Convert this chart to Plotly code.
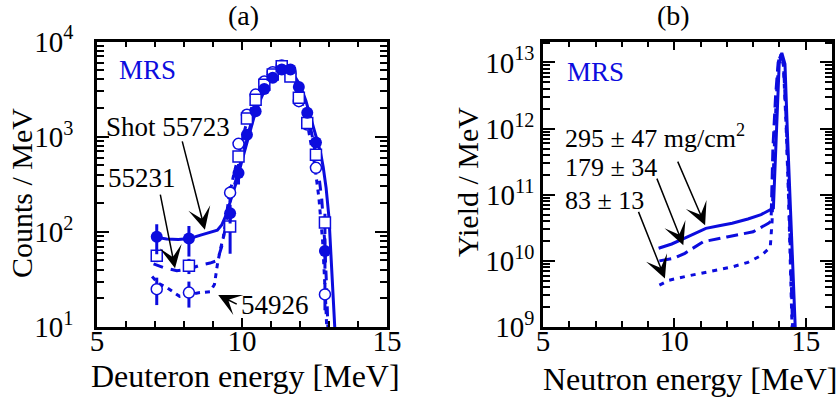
import plotly.graph_objects as go

BLUE = "rgb(12,12,222)"
FONT = "Liberation Serif"

# ---------- Panel (a): deuteron spectra ----------
e_pts = [7.06, 8.17, 9.59, 9.88, 10.17, 10.47, 10.77, 11.06, 11.37, 11.67, 11.96, 12.25, 12.55, 12.86]
shot55723 = [89, 85, 157, 415, 1050, 1850, 3160, 4150, 5070, 5070, 3330, 1780, 870, 63]
shot55231 = [56, 44, 114, 620, 1550, 2450, 3520, 4500, 5500, 4300, 2560, 1390, 645, 125]
shot54926 = [25, 23, 258, 840, 1700, 2770, 3800, 4760, 5600, 4600, 2360, 1340, 470, 22]
err55723 = [31, 30, 35, 100, 60, 0, 0, 0, 0, 0, 0, 0, 60, 22]
err55231 = [8, 8, 55, 60, 0, 0, 0, 0, 0, 0, 0, 0, 50, 30]
err54926 = [8, 7, 45, 60, 0, 0, 0, 0, 0, 0, 0, 0, 40, 7]

fit55723_e = [7.0, 7.4, 7.8, 8.2, 8.6, 8.9, 9.15, 9.3, 9.45, 9.6, 9.8, 10.0, 10.2, 10.4, 10.6, 10.8,
              11.0, 11.2, 11.4, 11.6, 11.8, 12.0, 12.2, 12.4, 12.6, 12.7, 12.8, 12.9, 13.0, 13.1, 13.2, 13.25]
fit55723_y = [88, 84, 83, 85, 93, 98, 104, 118, 150, 210, 330, 560, 950, 1550, 2300, 3200,
              4100, 4700, 5000, 4900, 4400, 3500, 2400, 1450, 900, 700, 480, 290, 140, 45, 11, 5]
fit55231_e = [6.95, 7.3, 7.75, 8.2, 8.6, 8.9, 9.15, 9.3, 9.4, 9.5, 9.6, 9.8, 10.0, 10.2, 10.4, 10.6,
              10.8, 11.0, 11.2, 11.4, 11.6, 11.8, 12.0, 12.2, 12.4, 12.6, 12.75, 12.85, 12.92, 12.97]
fit55231_y = [46, 42, 39, 41, 45, 47, 50, 70, 100, 150, 220, 360, 620, 1050, 1700, 2500,
              3400, 4300, 5000, 5300, 5000, 4200, 3100, 2000, 1100, 520, 220, 80, 25, 8]
fit54926_e = [6.9, 7.1, 7.4, 7.85, 8.2, 8.55, 8.9, 9.05, 9.15, 9.25, 9.35, 9.45, 9.55, 9.7, 9.9, 10.1,
              10.3, 10.5, 10.7, 10.9, 11.1, 11.3, 11.5, 11.7, 11.9, 12.1, 12.3, 12.5, 12.65, 12.78, 12.88, 12.95]
fit54926_y = [34, 29, 26, 21, 22, 23, 23.5, 28, 45, 65, 85, 140, 230, 380, 700, 1200,
              1900, 2700, 3600, 4500, 5100, 5500, 5400, 4600, 3300, 2100, 1150, 520, 230, 80, 20, 6]

# ---------- Panel (b): neutron spectra ----------
n295_e = [9.4, 9.9, 10.5, 11.2, 11.7, 12.2, 12.8, 13.3, 13.77, 13.89, 13.99, 14.09, 14.21, 14.3, 14.4, 14.5, 14.59, 14.63]
n295_y = [1.55e10, 1.8e10, 2.3e10, 3.1e10, 3.4e10, 3.7e10, 4.3e10, 5.0e10, 6.3e10, 9.3e11, 9.5e12, 1.4e13,
          9.5e12, 9.3e11, 9.3e10, 9.0e9, 1.15e9, 5e8]
n179_e = [9.43, 10.0, 10.4, 11.1, 12.0, 13.0, 13.58, 13.68, 13.75, 13.85, 13.95, 14.05, 14.15, 14.25, 14.35, 14.45, 14.52]
n179_y = [1.0e10, 1.1e10, 1.3e10, 1.95e10, 2.3e10, 2.75e10, 3.7e10, 4.0e10, 5e11, 3e12, 1.0e13, 1.35e13,
          1.0e13, 1.5e12, 1.2e11, 5e9, 5e8]
n83_e = [9.43, 9.8, 10.5, 11.0, 11.6, 12.2, 12.8, 13.3, 13.65, 13.72, 13.78, 13.88, 13.98, 14.06, 14.15, 14.25, 14.35, 14.45, 14.5]
n83_y = [4.3e9, 5.1e9, 5.9e9, 6.5e9, 7.3e9, 8.1e9, 9.5e9, 1.2e10, 1.6e10, 4e10, 3e11, 3e12, 1.1e13, 1.3e13,
         9e12, 1.2e12, 8e10, 3e9, 5e8]

xticks = [5, 10, 15]
xminor_a = [6, 7, 8, 9, 11, 12, 13, 14]
xminor_b = [6, 7, 8, 9, 11, 12, 13, 14, 16]
ya_ticks = [1e1, 1e2, 1e3, 1e4]
ya_text = ["10<sup>1</sup>", "10<sup>2</sup>", "10<sup>3</sup>", "10<sup>4</sup>"]
yb_ticks = [1e9, 1e10, 1e11, 1e12, 1e13]
yb_text = ["10<sup>9</sup>", "10<sup>10</sup>", "10<sup>11</sup>", "10<sup>12</sup>", "10<sup>13</sup>"]

FW, FH = 840, 406


def px(x):
    return x / FW


def py(y):
    return 1 - y / FH


def minors(lo, hi):
    return [m * 10 ** k for k in range(lo, hi) for m in range(2, 10)]


fig = go.Figure()

fig.add_trace(go.Scatter(x=fit55723_e, y=fit55723_y, mode="lines",
                         line=dict(color=BLUE, width=3), xaxis="x", yaxis="y"))
fig.add_trace(go.Scatter(x=fit55231_e, y=fit55231_y, mode="lines",
                         line=dict(color=BLUE, width=3, dash="10px,8px"), xaxis="x", yaxis="y"))
fig.add_trace(go.Scatter(x=fit54926_e, y=fit54926_y, mode="lines",
                         line=dict(color=BLUE, width=3, dash="5px,5px"), xaxis="x", yaxis="y"))


def err(arr):
    return dict(type="data", array=arr, arrayminus=arr, symmetric=False,
                color=BLUE, thickness=3, width=0)


fig.add_trace(go.Scatter(x=e_pts, y=shot54926, mode="markers", error_y=err(err54926),
                         marker=dict(symbol="circle", size=11, color="white",
                                     line=dict(color=BLUE, width=1.5)), xaxis="x", yaxis="y"))
fig.add_trace(go.Scatter(x=e_pts, y=shot55231, mode="markers", error_y=err(err55231),
                         marker=dict(symbol="square", size=11, color="white",
                                     line=dict(color=BLUE, width=1.5)), xaxis="x", yaxis="y"))
fig.add_trace(go.Scatter(x=e_pts, y=shot55723, mode="markers", error_y=err(err55723),
                         marker=dict(symbol="circle", size=12, color=BLUE), xaxis="x", yaxis="y"))

fig.add_trace(go.Scatter(x=n295_e, y=n295_y, mode="lines",
                         line=dict(color=BLUE, width=3), xaxis="x2", yaxis="y2"))
fig.add_trace(go.Scatter(x=n179_e, y=n179_y, mode="lines",
                         line=dict(color=BLUE, width=3, dash="12px,6px"), xaxis="x2", yaxis="y2"))
fig.add_trace(go.Scatter(x=n83_e, y=n83_y, mode="lines",
                         line=dict(color=BLUE, width=3, dash="5px,6px"), xaxis="x2", yaxis="y2"))

axis_common = dict(showline=True, linecolor="black", linewidth=2.5, mirror="ticks",
                   ticks="inside", tickwidth=2, tickcolor="black", showgrid=False, zeroline=False,
                   automargin=False,
                   tickfont=dict(size=29, family=FONT, color="black"))

ydom = [py(327), py(41.5)]
fig.update_layout(
    width=FW, height=FH, margin=dict(l=0, r=0, t=0, b=0, autoexpand=False),
    paper_bgcolor="white", plot_bgcolor="white", showlegend=False,
    font=dict(family=FONT, size=28, color="black"),
    xaxis=dict(domain=[px(97), px(387)], range=[5, 15], tickvals=xticks, ticklen=9,
               minor=dict(tickvals=xminor_a, ticklen=6, tickwidth=2, ticks="inside", tickcolor="black"),
               anchor="y", ticklabelstandoff=-14, **axis_common),
    yaxis=dict(domain=ydom, type="log", range=[1, 4], tickvals=ya_ticks, ticktext=ya_text, ticklen=12,
               minor=dict(tickvals=minors(1, 4), ticklen=7, tickwidth=2, ticks="inside", tickcolor="black"),
               anchor="x", ticklabelstandoff=15, **axis_common),
    xaxis2=dict(domain=[px(543), px(832)], range=[5, 16], tickvals=xticks, ticklen=9,
                minor=dict(tickvals=xminor_b, ticklen=6, tickwidth=2, ticks="inside", tickcolor="black"),
                anchor="y2", ticklabelstandoff=-14, **axis_common),
    yaxis2=dict(domain=ydom, type="log", range=[9, 13.317], tickvals=yb_ticks, ticktext=yb_text, ticklen=12,
                minor=dict(tickvals=minors(9, 14), ticklen=7, tickwidth=2, ticks="inside", tickcolor="black"),
                anchor="x2", ticklabelstandoff=0, **axis_common),
)

ann = []


def txt(text, x, y, size=28, color="black", xanchor="center", textangle=0):
    ann.append(dict(text=text, x=px(x), y=py(y), xref="paper", yref="paper", showarrow=False,
                    xanchor=xanchor, yanchor="middle", textangle=textangle,
                    font=dict(family=FONT, size=size, color=color)))


def arrow(x, y, ax, ay, xr, yr):
    ann.append(dict(text="", x=x, y=y, xref=xr, yref=yr, ax=ax, ay=ay, axref="pixel", ayref="pixel",
                    showarrow=True, arrowhead=3, arrowsize=2.5, arrowwidth=1.5, arrowcolor="black"))


txt("(a)", 243, 15)
txt("(b)", 673, 15)
txt("Deuteron energy [MeV]", 245, 376, size=32)
txt("Neutron energy [MeV]", 690, 379, size=32)
txt("Counts / MeV", 22, 193, size=30, textangle=-90)
txt("Yield / MeV", 467, 182, size=30, textangle=-90)
txt("MRS", 117, 70, size=27, color=BLUE, xanchor="left")
txt("MRS", 565, 72, size=27, color=BLUE, xanchor="left")
txt("Shot 55723", 168, 127, size=27)
txt("55231", 142, 178, size=27)
txt("54926", 275, 305, size=27)
txt("295 ± 47 mg/cm<sup>2</sup>", 563, 136, size=26, xanchor="left")
txt("179 ± 34", 563, 168, size=26, xanchor="left")
txt("83 ± 13", 563, 200, size=26, xanchor="left")

arrow(8.72, 2.021, -23, -90, "x", "y")
arrow(7.69, 1.618, -15, -75, "x", "y")
arrow(9.18, 1.337, 20, 10, "x", "y")
arrow(11.17, 10.54, -28, -65, "x2", "y2")
arrow(10.34, 10.238, -27, -68, "x2", "y2")
arrow(9.64, 9.735, -27, -68, "x2", "y2")

fig.update_layout(annotations=ann)
fig.write_html("out.html", config={"displayModeBar": False},
               post_script="document.body.style.margin='0px';document.body.style.overflow='hidden';")
